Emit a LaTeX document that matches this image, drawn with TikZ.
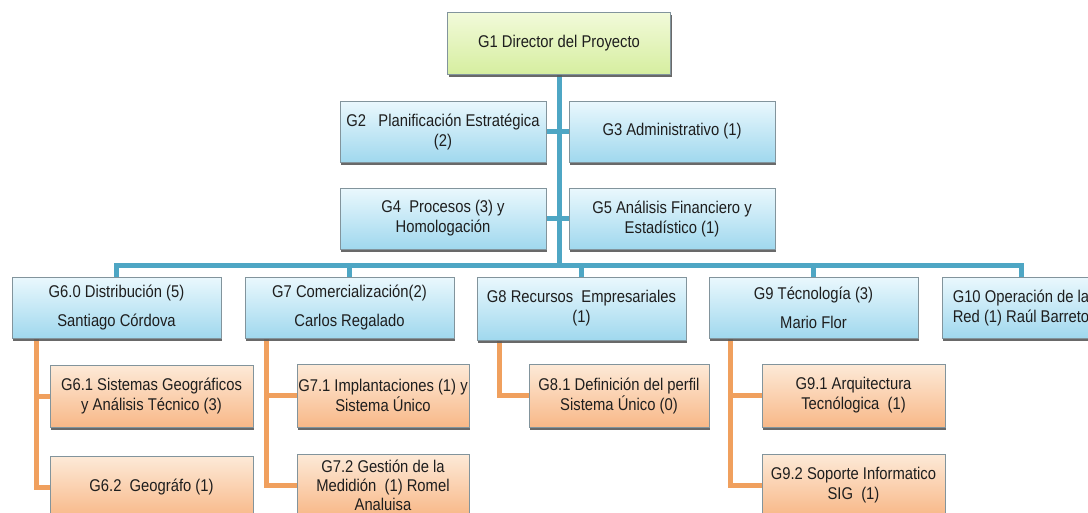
\documentclass[tikz,border=0pt]{standalone}
\usepackage{fontspec}
\setmainfont{Liberation Sans}[FakeStretch=0.87]
\usetikzlibrary{shadows,backgrounds}
\definecolor{bline}{RGB}{78,166,196}
\definecolor{oline}{RGB}{240,160,94}
\definecolor{bordergray}{RGB}{130,148,156}
\definecolor{txt}{RGB}{30,30,30}
\definecolor{gtop}{RGB}{242,250,218}
\definecolor{gbot}{RGB}{214,238,160}
\definecolor{btop}{RGB}{234,248,253}
\definecolor{bbot}{RGB}{160,216,238}
\definecolor{otop}{RGB}{253,234,216}
\definecolor{obot}{RGB}{248,184,136}
\begin{document}
\begin{tikzpicture}[x=1pt,y=-1pt,
  box/.style={draw=bordergray, line width=0.7pt, inner sep=1pt, align=center,
    minimum height=61pt, font=\fontsize{17}{20}\selectfont, text=txt,
    drop shadow={shadow xshift=1pt, shadow yshift=-2.5pt, fill=black!65, opacity=0.9}},
  gbox/.style={box, top color=gtop, bottom color=gbot},
  bbox/.style={box, top color=btop, bottom color=bbot},
  obox/.style={box, top color=otop, bottom color=obot},
  bconn/.style={draw=bline, line width=5pt},
  oconn/.style={draw=oline, line width=5pt},
]
\useasboundingbox (0,0) rectangle (1088,512);

\node[gbox, minimum width=223pt, minimum height=62pt] (G1) at (559,43) {G1 Director del Proyecto};
\node[bbox, minimum width=206pt] (G2) at (443,131.5) {G2\ \ \ Planificación Estratégica\\(2)};
\node[bbox, minimum width=206pt] (G3) at (672,131.5) {G3 Administrativo (1)};
\node[bbox, minimum width=206pt] (G4) at (443,218.5) {G4\ \ Procesos (3) y\\Homologación};
\node[bbox, minimum width=206pt] (G5) at (672,218.5) {G5 Análisis Financiero y\\Estadístico (1)};

\node[bbox, minimum width=209pt] (G60) at (116.5,307.5) {G6.0 Distribución (5)\\[9pt]Santiago Córdova};
\node[bbox, minimum width=209pt] (G7) at (349.5,307.5) {G7 Comercialización(2)\\[9pt]Carlos Regalado};
\node[bbox, minimum width=209pt, minimum height=63pt] (G8) at (581.5,308.5) {G8 Recursos\ \ Empresariales\\(1)};
\node[bbox, minimum width=209pt] (G9) at (813.5,307.5) {G9 Técnología (3)\\[9pt]Mario Flor};
\node[bbox, minimum width=158pt] (G10) at (1021,307.5) {G10 Operación de la\\Red (1) Raúl Barreto};

\node[obox, minimum width=203pt, minimum height=62pt] (G61) at (151.5,396) {G6.1 Sistemas Geográficos\\y Análisis Técnico (3)};
\node[obox, minimum width=203pt, minimum height=62pt] (G62) at (151.5,487) {G6.2\ \ Geográfo (1)};
\node[obox, minimum width=172pt, minimum height=63pt] (G71) at (383,395.5) {G7.1 Implantaciones (1) y\\Sistema Único};
\node[obox, minimum width=172pt, minimum height=62pt, font=\fontsize{17}{19}\selectfont] (G72) at (383,485) {G7.2 Gestión de la\\Medidión\ \ (1) Romel\\Analuisa};
\node[obox, minimum width=180pt, minimum height=63pt] (G81) at (619,395.5) {G8.1 Definición del perfil\\Sistema Único (0)};
\node[obox, minimum width=183pt, minimum height=63pt] (G91) at (853.5,395.5) {G9.1 Arquitectura\\Tecnólogica\ \ (1)};
\node[obox, minimum width=183pt, minimum height=62pt] (G92) at (853.5,485) {G9.2 Soporte Informatico\\SIG\ \ (1)};

\coordinate (bus) at (560,265);

\begin{pgfonlayer}{background}
  \draw[bconn] (G1.south) -- (G1.south |- bus);
  \draw[bconn] (G2.east) -- (G3.west);
  \draw[bconn] (G4.east) -- (G5.west);
  \draw[bconn, line cap=rect] (G60.north |- bus) -- (G10.north |- bus);
  \draw[bconn] (G60.north) -- (G60.north |- bus);
  \draw[bconn] (G7.north) -- (G7.north |- bus);
  \draw[bconn] (G8.north) -- (G8.north |- bus);
  \draw[bconn] (G9.north) -- (G9.north |- bus);
  \draw[bconn] (G10.north) -- (G10.north |- bus);

  \draw[oconn] ([xshift=25pt]G60.south west) |- (G61.west);
  \draw[oconn] ([xshift=25pt]G60.south west) |- (G62.west);
  \draw[oconn] ([xshift=22pt]G7.south west) |- (G71.west);
  \draw[oconn] ([xshift=22pt]G7.south west) |- (G72.west);
  \draw[oconn] ([xshift=23pt]G8.south west) |- (G81.west);
  \draw[oconn] ([xshift=22pt]G9.south west) |- (G91.west);
  \draw[oconn] ([xshift=22pt]G9.south west) |- (G92.west);
\end{pgfonlayer}
\end{tikzpicture}
\end{document}
